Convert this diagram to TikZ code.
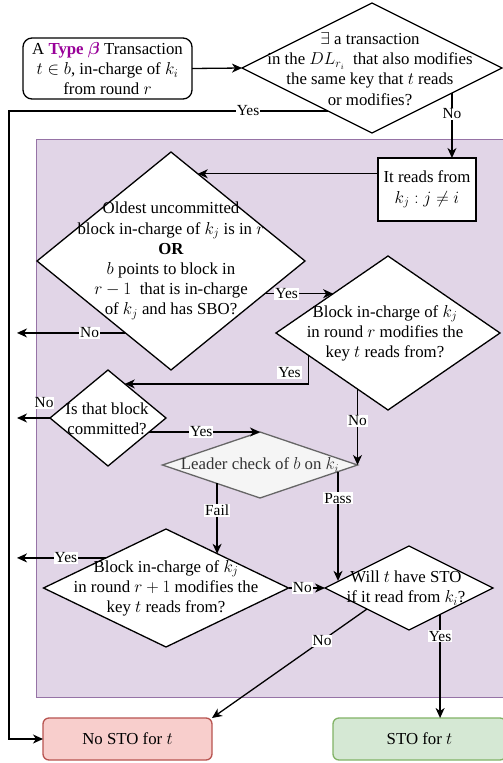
\documentclass[tikz,border=0pt]{standalone}
\usepackage{fontspec}
\setmainfont{Liberation Serif}
\usepackage{bm}
\usetikzlibrary{shapes.geometric,arrows.meta,calc}
\definecolor{purfill}{HTML}{E1D5E7}
\definecolor{purline}{HTML}{9673A6}
\definecolor{typec}{HTML}{990099}
\definecolor{redfill}{HTML}{F8CECC}
\definecolor{redline}{HTML}{B85450}
\definecolor{grnfill}{HTML}{D5E8D4}
\definecolor{grnline}{HTML}{82B366}
\definecolor{grayfill}{HTML}{F5F5F5}
\definecolor{grayline}{HTML}{666666}
\definecolor{graytext}{HTML}{333333}
\begin{document}
\begin{tikzpicture}[x=1pt,y=-1pt,
 dia/.style={diamond,draw,fill=white,inner sep=0pt,outer sep=0pt,line width=1.3pt},
 box/.style={rectangle,draw,fill=white,inner sep=0pt,outer sep=0pt,line width=1.3pt},
 txt/.style={align=center,font=\fontsize{16.8}{20.16}\selectfont,inner sep=0pt},
 lbl/.style={fill=white,inner sep=1pt,font=\fontsize{15.4}{18}\selectfont},
 arr/.style={line width=1.3pt,-{Stealth[length=10pt,width=9pt,inset=3pt]}}]
\clip (0,0) rectangle (503,763);
\fill[white] (0,0) rectangle (503,763);
% region
\node[draw=purline,fill=purfill,line width=1pt,inner sep=0pt,minimum width=494,minimum height=558,anchor=north west] (region) at (36,139) {};
% nodes
\node[box,rounded corners=9pt,minimum width=169,minimum height=61,txt] (start) at (107.5,68.5)
  {A \textbf{\textcolor{typec}{Type $\bm{\beta}$}} Transaction\\$t\in b$, in-charge of $k_i$\\from round $r$};
\node[dia,minimum width=260,minimum height=130] (d1) at (372,68) {};
\node[txt] (d1t) at (370,69) {$\exists$ a transaction\\in the $DL_{r_i}$\ \ that also modifies\\the same key that $t$ reads\\or modifies?};
\node[box,minimum width=98,minimum height=63,txt] (rd) at (427,189.5) {It reads from\\$k_j : j\neq i$};
\node[dia,minimum width=268,minimum height=218] (d2) at (171,261) {};
\node[txt] (d2t) at (171,261) {Oldest uncommitted\\block in-charge of $k_j$ is in $r$\\\textbf{OR}\\$b$ points to block in\\$r-1$\ \ that is in-charge\\of $k_j$ and has SBO?};
\node[dia,minimum width=224,minimum height=154] (d3) at (388,333) {};
\node[txt] (d3t) at (385,333) {Block in-charge of $k_j$\\in round $r$ modifies the\\key $t$ reads from?};
\node[dia,minimum width=116,minimum height=96] (d4) at (108,418) {};
\node[txt] (d4t) at (107,419) {Is that block\\committed?};
\node[dia,draw=grayline,fill=grayfill,minimum width=195,minimum height=66] (d5) at (260,465) {};
\node[txt,text=graytext] (d5t) at (260,465) {Leader check of $b$ on $k_i$};
\node[dia,minimum width=245,minimum height=118] (d6) at (166,588) {};
\node[txt] (d6t) at (166,588) {Block in-charge of $k_j$\\in round $r+1$ modifies the\\key $t$ reads from?};
\node[dia,minimum width=168,minimum height=84] (d7) at (409,588) {};
\node[txt] (d7t) at (406,588) {Will $t$ have STO\\if it read from $k_i$?};
\node[box,draw=redline,fill=redfill,rounded corners=6pt,minimum width=169,minimum height=42,txt] (nosto) at (127.5,739) {No STO for $t$};
\node[box,draw=grnline,fill=grnfill,rounded corners=6pt,minimum width=173,minimum height=42,txt] (sto) at (419.5,739) {STO for $t$};
% free ends
\coordinate (lx) at (9,0);
\coordinate (la) at (17,0);
% edges
\draw[arr] (start.east) -- (d1.west);
\coordinate (p1) at ($(d1.west)!0.66!(d1.south)$);
\draw[arr] (p1) -- node[lbl,pos=0.25]{Yes} (p1 -| lx) |- (nosto.west);
\coordinate (p2) at ($(d1.south)!0.615!(d1.east)$);
\draw[arr] (p2) -- node[lbl,pos=0.32]{No} (p2 |- rd.north);
\coordinate (p3) at ($(d2.north)!0.2!(d2.east)$);
\draw[arr] (p3 -| rd.west) -- (p3);
\coordinate (p4) at ($(d2.east)!0.3!(d2.south)$);
\coordinate (q4) at ($(d3.north)!0.49!(d3.west)$);
\draw[arr] (p4) -- node[lbl,pos=0.32]{Yes} (q4 |- p4);
\coordinate (p5) at ($(d2.south)!0.34!(d2.west)$);
\draw[arr] (p5) -- node[lbl,pos=0.33]{No} (p5 -| la);
\coordinate (p6) at ($(d3.west)!0.29!(d3.south)$);
\coordinate (q6) at ($(d4.north)!0.29!(d4.east)$);
\draw[arr] (p6) |- node[lbl,pos=0.3,xshift=-19pt]{Yes} (q6);
\draw[arr] (d4.west) -- node[lbl,pos=0.18,yshift=15pt]{No} (d4.west -| la);
\coordinate (p8) at ($(d4.east)!0.29!(d4.south)$);
\draw[arr] (d5.north -| p8) -- node[lbl,pos=0.47]{Yes} (d5.north);
\coordinate (p9) at ($(d3.west)!0.728!(d3.south)$);
\draw[arr] (d5.east |- p9) -- node[lbl,pos=0.42]{No} (d5.east);
\coordinate (p10) at ($(d5.west)!0.56!(d5.south)$);
\coordinate (q10) at ($(d6.north)!0.42!(d6.east)$);
\draw[arr] (p10) -- node[lbl,pos=0.38]{Fail} (p10 |- q10);
\coordinate (p11) at ($(d5.east)!0.2!(d5.south)$);
\coordinate (q11) at ($(d7.west)!0.17!(d7.north)$);
\draw[arr] (p11) -- node[lbl,pos=0.245]{Pass} (p11 |- q11);
\coordinate (p12) at ($(d6.west)!0.51!(d6.north)$);
\draw[arr] (p12) -- node[lbl,pos=0.45]{Yes} (p12 -| la);
\draw[arr] (d6.east) -- node[lbl,pos=0.38]{No} (d7.west);
\coordinate (p14) at ($(d7.west)!0.5!(d7.south)$);
\draw[arr] (p14) -- node[lbl,pos=0.29]{No} (nosto.north east);
\coordinate (p15) at ($(d7.south)!0.37!(d7.east)$);
\draw[arr] (p15) -- node[lbl,pos=0.21]{Yes} (p15 |- sto.north);
\end{tikzpicture}
\end{document}
